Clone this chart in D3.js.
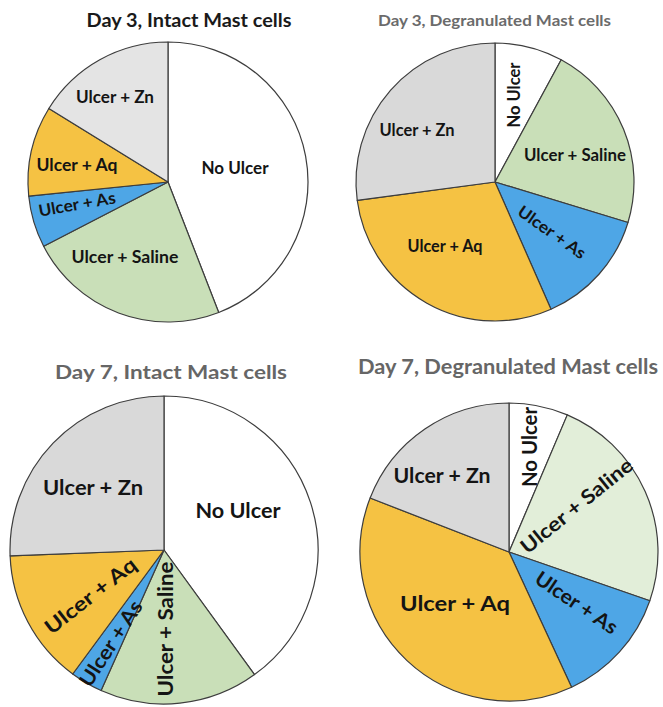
<!DOCTYPE html>
<html>
<head>
<meta charset="utf-8">
<script src="https://cdn.jsdelivr.net/npm/d3@7"></script>
<style>
  html, body { margin: 0; padding: 0; background: #fff; }
  svg { display: block; }
  text { font-family: Lato, "Open Sans", sans-serif; font-weight: bold; }
</style>
</head>
<body>
<svg id="chart" width="663" height="707"></svg>
<script>
// ---- data ----
const categories = ["No Ulcer", "Ulcer + Saline", "Ulcer + As", "Ulcer + Aq", "Ulcer + Zn"];
const chartTitles = ["Day 3, Intact Mast cells", "Day 3, Degranulated Mast cells",
                     "Day 7, Intact Mast cells", "Day 7, Degranulated Mast cells"];
const day3Intact       = [44.1, 23.3, 6.0, 10.4, 16.2];
const day3Degranulated = [7.9, 21.8, 13.7, 29.5, 27.1];
const day7Intact       = [40.0, 16.7, 3.4, 14.3, 25.6];
const day7Degranulated = [6.4, 23.9, 12.8, 37.8, 19.1];

// ---- layout / style ----
const panels = [
  { values: day3Intact, cx: 168, cy: 182, r: 140,
    title: { x: 189, y: 26.5, size: 18.5, width: 205, color: "#1a1a1a" },
    labelSize: 16.5,
    colors: ["#ffffff", "#c9dfb8", "#4ea6e6", "#f5c243", "#e4e4e4"],
    labels: [ {dx: 67, dy: -14, rot: 0, w: 67}, {dx: -43, dy: 75, rot: 0, w: 107},
              {dx: -91, dy: 22, rot: -10, w: 78}, {dx: -91, dy: -17, rot: 0, w: 81},
              {dx: -53, dy: -85, rot: 0, w: 78} ] },
  { values: day3Degranulated, cx: 495, cy: 182, r: 139,
    title: { x: 494.5, y: 25.5, size: 16, width: 233, color: "#6b6b6b" },
    labelSize: 16.5,
    colors: ["#ffffff", "#c9dfb8", "#4ea6e6", "#f5c243", "#d9d9d9"],
    labels: [ {dx: 19, dy: -87, rot: -90, w: 65}, {dx: 80, dy: -27, rot: 0, w: 102},
              {dx: 57, dy: 50, rot: 35, w: 79}, {dx: -50, dy: 64, rot: 0, w: 75},
              {dx: -78, dy: -52, rot: 0, w: 75} ] },
  { values: day7Intact, cx: 164, cy: 550, r: 154,
    title: { x: 171, y: 379, size: 19.5, width: 232, color: "#666666" },
    labelSize: 20,
    colors: ["#ffffff", "#c9dfb8", "#4ea6e6", "#f5c243", "#d9d9d9"],
    labels: [ {dx: 74, dy: -40, rot: 0, w: 85}, {dx: 1, dy: 79, rot: -90, w: 135},
              {dx: -54, dy: 93, rot: -57, w: 98}, {dx: -74, dy: 45, rot: -38, w: 110},
              {dx: -71, dy: -63, rot: 0, w: 100} ] },
  { values: day7Degranulated, cx: 509, cy: 552, r: 149,
    title: { x: 508, y: 373.5, size: 20, width: 300, color: "#666666" },
    labelSize: 20,
    colors: ["#ffffff", "#e2eed9", "#4ea6e6", "#f5c243", "#d9d9d9"],
    labels: [ {dx: 20, dy: -105, rot: -90, w: 80}, {dx: 67, dy: -47, rot: -39, w: 138},
              {dx: 68, dy: 50, rot: 34, w: 95}, {dx: -54, dy: 51, rot: 0, w: 110},
              {dx: -67, dy: -77, rot: 0, w: 97} ] }
];

const svg = d3.select("#chart");
const pie = d3.pie().sort(null).value(d => d.value);

panels.forEach((p, i) => {
  const g = svg.append("g").attr("transform", `translate(${p.cx},${p.cy})`);
  const arc = d3.arc().innerRadius(0).outerRadius(p.r);
  const data = categories.map((c, k) => ({ name: c, value: p.values[k], k }));
  const arcs = pie(data);

  g.selectAll("path").data(arcs).enter().append("path")
    .attr("d", arc)
    .attr("fill", d => p.colors[d.data.k])
    .attr("stroke", "#3d3d3d")
    .attr("stroke-width", 1.2)
    .attr("stroke-linejoin", "round");

  g.selectAll("text.lbl").data(arcs).enter().append("text")
    .attr("class", "lbl")
    .attr("transform", d => {
      const L = p.labels[d.data.k];
      return `translate(${L.dx},${L.dy}) rotate(${L.rot})`;
    })
    .attr("text-anchor", "middle")
    .attr("dominant-baseline", "central")
    .attr("font-size", p.labelSize)
    .attr("fill", "#141414")
    .attr("textLength", d => p.labels[d.data.k].w)
    .attr("lengthAdjust", "spacingAndGlyphs")
    .text(d => d.data.name);

  svg.append("text")
    .attr("x", p.title.x)
    .attr("y", p.title.y)
    .attr("text-anchor", "middle")
    .attr("font-size", p.title.size)
    .attr("fill", p.title.color)
    .attr("textLength", p.title.width)
    .attr("lengthAdjust", "spacingAndGlyphs")
    .text(chartTitles[i]);
});
</script>
</body>
</html>
